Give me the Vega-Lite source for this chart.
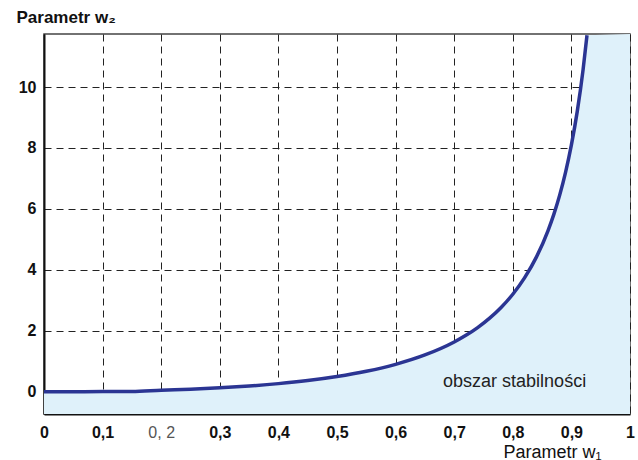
{
  "$schema": "https://vega.github.io/schema/vega-lite/v6.json",
  "width": 586,
  "height": 380,
  "autosize": {"type": "none"},
  "padding": {"left": 44, "top": 34, "right": 8, "bottom": 46},
  "background": "white",
  "config": {
    "view": {"stroke": "#444", "strokeWidth": 1.5},
    "font": "Liberation Sans"
  },
  "datasets": {
    "curve": [
      {"w1": 0, "w2": 0}, {"w1": 0.05, "w2": 0}, {"w1": 0.1, "w2": 0.005}, {"w1": 0.15, "w2": 0.01},
      {"w1": 0.2, "w2": 0.05}, {"w1": 0.25, "w2": 0.083}, {"w1": 0.3, "w2": 0.129}, {"w1": 0.35, "w2": 0.189},
      {"w1": 0.4, "w2": 0.267}, {"w1": 0.45, "w2": 0.368}, {"w1": 0.5, "w2": 0.5}, {"w1": 0.55, "w2": 0.672},
      {"w1": 0.6, "w2": 0.9}, {"w1": 0.65, "w2": 1.207}, {"w1": 0.7, "w2": 1.633}, {"w1": 0.72, "w2": 1.851},
      {"w1": 0.74, "w2": 2.106}, {"w1": 0.76, "w2": 2.407}, {"w1": 0.78, "w2": 2.766}, {"w1": 0.8, "w2": 3.2},
      {"w1": 0.82, "w2": 3.736}, {"w1": 0.84, "w2": 4.41}, {"w1": 0.86, "w2": 5.283}, {"w1": 0.87, "w2": 5.822},
      {"w1": 0.88, "w2": 6.453}, {"w1": 0.89, "w2": 7.201}, {"w1": 0.9, "w2": 8.1}, {"w1": 0.91, "w2": 9.201},
      {"w1": 0.92, "w2": 10.58}, {"w1": 0.9266, "w2": 11.7}
    ],
    "fill": [
      {"w1": 0, "w2": 0}, {"w1": 0.05, "w2": 0}, {"w1": 0.1, "w2": 0.005}, {"w1": 0.15, "w2": 0.01},
      {"w1": 0.2, "w2": 0.05}, {"w1": 0.25, "w2": 0.083}, {"w1": 0.3, "w2": 0.129}, {"w1": 0.35, "w2": 0.189},
      {"w1": 0.4, "w2": 0.267}, {"w1": 0.45, "w2": 0.368}, {"w1": 0.5, "w2": 0.5}, {"w1": 0.55, "w2": 0.672},
      {"w1": 0.6, "w2": 0.9}, {"w1": 0.65, "w2": 1.207}, {"w1": 0.7, "w2": 1.633}, {"w1": 0.72, "w2": 1.851},
      {"w1": 0.74, "w2": 2.106}, {"w1": 0.76, "w2": 2.407}, {"w1": 0.78, "w2": 2.766}, {"w1": 0.8, "w2": 3.2},
      {"w1": 0.82, "w2": 3.736}, {"w1": 0.84, "w2": 4.41}, {"w1": 0.86, "w2": 5.283}, {"w1": 0.87, "w2": 5.822},
      {"w1": 0.88, "w2": 6.453}, {"w1": 0.89, "w2": 7.201}, {"w1": 0.9, "w2": 8.1}, {"w1": 0.91, "w2": 9.201},
      {"w1": 0.92, "w2": 10.58}, {"w1": 0.9266, "w2": 11.7}, {"w1": 1.0, "w2": 11.74}
    ],
    "label": [{"w1": 0.681, "w2": 0.16, "text": "obszar stabilności"}]
  },
  "layer": [
    {
      "data": {"name": "fill"},
      "mark": {"type": "area", "color": "#dff1fa", "clip": true},
      "encoding": {
        "x": {
          "field": "w1", "type": "quantitative",
          "scale": {"domain": [0, 1], "nice": false, "zero": false},
          "axis": {
            "values": [0, 0.1, 0.2, 0.3, 0.4, 0.5, 0.6, 0.7, 0.8, 0.9, 1],
            "labelExpr": "datum.value == 0 ? '0' : datum.value == 1 ? '1' : (abs(datum.value - 0.2) < 0.001 ? '0, 2' : replace(format(datum.value, '.1f'), '.', ','))",
            "labelFontWeight": {"condition": {"test": "abs(datum.value - 0.2) < 0.001", "value": "normal"}, "value": "bold"},
            "labelColor": {"condition": {"test": "abs(datum.value - 0.2) < 0.001", "value": "#555"}, "value": "#111"},
            "labelFontSize": 16,
            "labelFont": "Liberation Sans",
            "labelPadding": 10,
            "labelFlush": false,
            "ticks": false,
            "domainColor": "#111",
            "domainWidth": 2,
            "grid": true,
            "gridColor": "#222",
            "gridDash": [7, 5],
            "gridWidth": 1,
            "gridOpacity": 1,
            "title": "Parametr w₁",
            "titleFont": "Liberation Sans",
            "titleFontSize": 18,
            "titleFontWeight": "normal",
            "titleColor": "#111",
            "titleAnchor": null,
            "titleAlign": "right",
            "titleBaseline": "alphabetic",
            "titleX": 557,
            "titleY": 43
          }
        },
        "y": {
          "field": "w2", "type": "quantitative",
          "scale": {"domain": [-0.73, 11.74], "nice": false, "zero": false},
          "axis": {
            "values": [0, 2, 4, 6, 8, 10],
            "labelFontWeight": "bold",
            "labelFontSize": 16,
            "labelFont": "Liberation Sans",
            "labelColor": "#111",
            "labelPadding": 8,
            "labelFlush": false,
            "ticks": false,
            "domainColor": "#111",
            "domainWidth": 2,
            "grid": true,
            "gridColor": "#222",
            "gridDash": [7, 5],
            "gridWidth": 1,
            "gridOpacity": 1,
            "title": "Parametr w₂",
            "titleFont": "Liberation Sans",
            "titleFontSize": 17,
            "titleFontWeight": "bold",
            "titleColor": "#111",
            "titleAngle": 0,
            "titleAnchor": null,
            "titleAlign": "left",
            "titleBaseline": "alphabetic",
            "titleX": -28,
            "titleY": -12
          }
        },
        "y2": {"datum": -0.73}
      }
    },
    {
      "data": {"name": "curve"},
      "mark": {"type": "line", "color": "#2b3593", "strokeWidth": 3.5, "clip": true, "interpolate": "monotone"},
      "encoding": {
        "x": {"field": "w1", "type": "quantitative"},
        "y": {"field": "w2", "type": "quantitative"}
      }
    },
    {
      "data": {"name": "label"},
      "mark": {"type": "text", "align": "left", "baseline": "alphabetic", "fontSize": 18, "font": "Liberation Sans", "color": "#222"},
      "encoding": {
        "x": {"field": "w1", "type": "quantitative"},
        "y": {"field": "w2", "type": "quantitative"},
        "text": {"field": "text"}
      }
    }
  ]
}
